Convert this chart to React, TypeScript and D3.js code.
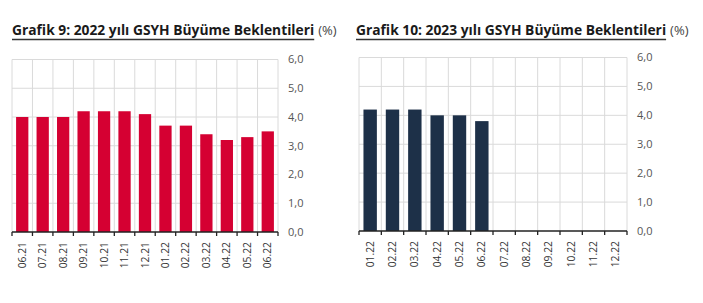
import React, { useLayoutEffect, useRef, useState } from 'react';
import * as d3 from 'd3';

// chart 9: 2022 growth expectations by survey month
const months2022 = ['06.21', '07.21', '08.21', '09.21', '10.21', '11.21', '12.21', '01.22', '02.22', '03.22', '04.22', '05.22', '06.22'];
const growth2022 = [4.0, 4.0, 4.0, 4.2, 4.2, 4.2, 4.1, 3.7, 3.7, 3.4, 3.2, 3.3, 3.5];

// chart 10: 2023 growth expectations (only first half filled)
const months2023 = ['01.22', '02.22', '03.22', '04.22', '05.22', '06.22', '07.22', '08.22', '09.22', '10.22', '11.22', '12.22'];
const growth2023: (number | null)[] = [4.2, 4.2, 4.2, 4.0, 4.0, 3.8, null, null, null, null, null, null];

const yTicks = [0, 1, 2, 3, 4, 5, 6];

const FONT = "'Open Sans', sans-serif";

interface PanelProps {
  x: number;
  titleBold: string;
  categories: string[];
  values: (number | null)[];
  color: string;
  left: number;
  right: number;
  top: number;
  bottom: number;
}

const Panel: React.FC<PanelProps> = ({ x, titleBold, categories, values, color, left, right, top, bottom }) => {
  const boldRef = useRef<SVGTextElement>(null);
  const [boldW, setBoldW] = useState(300);

  useLayoutEffect(() => {
    if (boldRef.current) setBoldW(boldRef.current.getComputedTextLength());
  }, [titleBold]);

  const xScale = d3.scaleBand<string>().domain(categories).range([left, right]).paddingInner(0).paddingOuter(0);
  const yScale = d3.scaleLinear().domain([0, 6]).range([bottom, top]);
  const bw = xScale.bandwidth();
  const barW = bw * 0.6;
  const fmt = (v: number) => d3.format('.1f')(v).replace('.', ',');

  return (
    <g>
      {/* title */}
      <text ref={boldRef} x={x} y={35} fontFamily={FONT} fontSize={13.8} fontWeight={700} fill="#1a1a1a">
        {titleBold}
      </text>
      <text x={x + boldW + 4} y={35} fontFamily={FONT} fontSize={13} fill="#444">(%)</text>
      <line x1={x} x2={x + boldW} y1={39.5} y2={39.5} stroke="#333" strokeWidth={1.4} />

      {/* grid */}
      {yTicks.slice(1).map(t => (
        <line key={'h' + t} x1={left} x2={right} y1={yScale(t)} y2={yScale(t)} stroke="#dadada" strokeWidth={1} />
      ))}
      {categories.map(c => (
        <line key={'v' + c} x1={xScale(c)!} x2={xScale(c)!} y1={top} y2={bottom} stroke="#dadada" strokeWidth={1} />
      ))}
      <line x1={right} x2={right} y1={top} y2={bottom} stroke="#dadada" strokeWidth={1} />

      {/* bars */}
      {values.map((v, i) =>
        v == null ? null : (
          <rect
            key={'b' + i}
            x={xScale(categories[i])! + (bw - barW) / 2}
            y={yScale(v)}
            width={barW}
            height={bottom - yScale(v)}
            fill={color}
          />
        )
      )}

      {/* x axis */}
      <line x1={left} x2={right} y1={bottom} y2={bottom} stroke="#222" strokeWidth={1.3} />
      {[...categories.map(c => xScale(c)!), right].map((px, i) => (
        <line key={'t' + i} x1={px} x2={px} y1={bottom} y2={bottom + 4} stroke="#222" strokeWidth={1.3} />
      ))}
      {categories.map(c => {
        const cx = xScale(c)! + bw / 2;
        const ty = bottom + 10;
        return (
          <text
            key={'l' + c}
            transform={`translate(${cx + 3.5},${ty}) rotate(-90)`}
            textAnchor="end"
            fontFamily={FONT}
            fontSize={10.3}
            fill="#333"
          >
            {c}
          </text>
        );
      })}

      {/* y labels on right */}
      {yTicks.map(t => (
        <text key={'y' + t} x={right + 10} y={yScale(t) + 3.8} fontFamily={FONT} fontSize={11} fill="#555">
          {fmt(t)}
        </text>
      ))}
    </g>
  );
};

export default function App() {
  return (
    <div style={{ position: 'absolute', left: 0, top: 0, background: '#fff' }}>
      <svg width={703} height={303} style={{ display: 'block' }}>
        <rect width={703} height={303} fill="#fff" />
        <Panel
          x={12}
          titleBold="Grafik 9: 2022 yılı GSYH Büyüme Beklentileri"
          categories={months2022}
          values={growth2022}
          color="#d50032"
          left={12}
          right={278}
          top={59.5}
          bottom={232}
        />
        <Panel
          x={356}
          titleBold="Grafik 10: 2023 yılı GSYH Büyüme Beklentileri"
          categories={months2023}
          values={growth2023}
          color="#1d3048"
          left={359}
          right={627}
          top={57.5}
          bottom={231}
        />
      </svg>
    </div>
  );
}
